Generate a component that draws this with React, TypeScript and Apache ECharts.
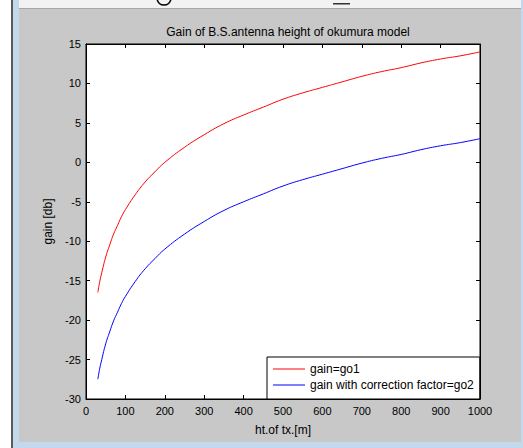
import React, { useEffect, useRef } from "react";
import * as echarts from "echarts";

const heights = [30, 35, 40, 50, 60, 70, 80, 90, 100, 125, 150, 175, 200, 250, 300, 350, 400, 450, 500, 550, 600, 650, 700, 750, 800, 850, 900, 950, 1000];
const gainGo1 = [-16.5, -15.1, -14.0, -12.0, -10.5, -9.1, -8.0, -6.9, -6.0, -4.1, -2.5, -1.2, 0.0, 1.9, 3.5, 4.9, 6.0, 7.0, 8.0, 8.8, 9.5, 10.2, 10.9, 11.5, 12.0, 12.6, 13.1, 13.5, 14.0];
const gainGo2 = [-27.5, -26.1, -25.0, -23.0, -21.5, -20.1, -19.0, -17.9, -17.0, -15.1, -13.5, -12.2, -11.0, -9.1, -7.5, -6.1, -5.0, -4.0, -3.0, -2.2, -1.5, -0.8, -0.1, 0.5, 1.0, 1.6, 2.1, 2.5, 3.0];
const seriesNames = ["gain=go1", "gain with correction factor=go2"];
const titleText = "Gain of B.S.antenna height of okumura model";
const xName = "ht.of tx.[m]";
const yName = "gain [db]";

const FONT = "Liberation Sans, Arial, sans-serif";

export default function App() {
  const ref = useRef<HTMLDivElement>(null);
  useEffect(() => {
    if (!ref.current) return;
    const chart = echarts.init(ref.current, null, { renderer: "svg" });
    const blue = "#c3d7ed";
    const axisCommon = {
      axisLine: { show: true, onZero: false, lineStyle: { color: "#000", width: 1 } },
      axisTick: { show: true, inside: true, length: 4, lineStyle: { color: "#000" } },
      splitLine: { show: false },
    };
    chart.setOption({
      animation: false,
      backgroundColor: "#ffffff",
      textStyle: { fontFamily: FONT },
      title: {
        text: titleText,
        left: 283,
        top: 21,
        textAlign: "center",
        textStyle: { fontSize: 12, fontWeight: "normal", color: "#000", fontFamily: FONT },
      },
      graphic: [
        { type: "rect", silent: true, z: -10, shape: { x: 11, y: 0, width: 2, height: 448 }, style: { fill: "#5a5a5a" } },
        { type: "rect", silent: true, z: -10, shape: { x: 13, y: 0, width: 6, height: 448 }, style: { fill: blue } },
        { type: "rect", silent: true, z: -10, shape: { x: 19, y: 0, width: 504, height: 8 }, style: { fill: "#f2f2f2" } },
        { type: "rect", silent: true, z: -10, shape: { x: 19, y: 8, width: 502, height: 1 }, style: { fill: "#a6a6a6" } },
        { type: "rect", silent: true, z: -10, shape: { x: 19, y: 9, width: 502, height: 433 }, style: { fill: "#c8c8c8" } },
        { type: "rect", silent: true, z: -10, shape: { x: 521, y: 0, width: 2, height: 448 }, style: { fill: blue } },
        { type: "rect", silent: true, z: -10, shape: { x: 19, y: 442, width: 504, height: 6 }, style: { fill: blue } },
        { type: "arc", silent: true, z: -9, shape: { cx: 164, cy: -2, r: 7, startAngle: 0.15, endAngle: Math.PI - 0.15 }, style: { stroke: "#000", lineWidth: 1.6, fill: "none" } },
        { type: "rect", silent: true, z: -9, shape: { x: 333, y: 3, width: 17, height: 1.5 }, style: { fill: "#333" } },
      ],
      grid: {
        left: 86,
        top: 44,
        width: 394,
        height: 355,
        show: true,
        backgroundColor: "#ffffff",
        borderColor: "#000",
        borderWidth: 1,
      },
      legend: {
        orient: "vertical",
        left: 267,
        top: 357,
        data: seriesNames,
        icon: "rect",
        itemWidth: 32,
        itemHeight: 1,
        itemGap: 2,
        padding: [5, 6, 7, 6],
        backgroundColor: "#ffffff",
        borderColor: "#000",
        borderWidth: 1,
        borderRadius: 0,
        textStyle: { fontSize: 12, color: "#000", fontFamily: FONT, lineHeight: 14 },
      },
      xAxis: [
        {
          type: "value",
          min: 0,
          max: 1000,
          interval: 100,
          position: "bottom",
          name: xName,
          nameLocation: "middle",
          nameGap: 25,
          nameTextStyle: { fontSize: 12, color: "#000", fontFamily: FONT },
          axisLabel: { fontSize: 11, color: "#000", margin: 6, fontFamily: FONT, formatter: (v: number) => String(v) },
          ...axisCommon,
        },
        {
          type: "value",
          min: 0,
          max: 1000,
          interval: 100,
          position: "top",
          axisLabel: { show: false },
          ...axisCommon,
        },
      ],
      yAxis: [
        {
          type: "value",
          min: -30,
          max: 15,
          interval: 5,
          position: "left",
          name: yName,
          nameLocation: "middle",
          nameGap: 27,
          nameTextStyle: { fontSize: 12, color: "#000", fontFamily: FONT },
          axisLabel: { fontSize: 11, color: "#000", margin: 5, fontFamily: FONT, formatter: (v: number) => String(v) },
          ...axisCommon,
        },
        {
          type: "value",
          min: -30,
          max: 15,
          interval: 5,
          position: "right",
          axisLabel: { show: false },
          ...axisCommon,
        },
      ],
      series: [
        {
          name: seriesNames[0],
          type: "line",
          data: heights.map((h, i) => [h, gainGo1[i]]),
          showSymbol: false,
          smooth: true,
          color: "#ff0000",
          lineStyle: { color: "#ff0000", width: 1 },
        },
        {
          name: seriesNames[1],
          type: "line",
          data: heights.map((h, i) => [h, gainGo2[i]]),
          showSymbol: false,
          smooth: true,
          color: "#0000ff",
          lineStyle: { color: "#0000ff", width: 1 },
        },
      ],
    });
    return () => chart.dispose();
  }, []);
  return (
    <div style={{ position: "fixed", left: 0, top: 0, width: 523, height: 448 }}>
      <div ref={ref} style={{ width: 523, height: 448 }} />
    </div>
  );
}
